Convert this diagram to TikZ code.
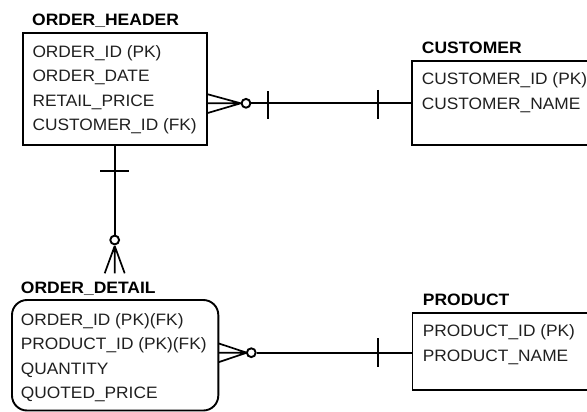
\documentclass[tikz,border=0pt]{standalone}
\usepackage{fontspec}
\setmainfont{Liberation Sans}
\newfontfamily\attrfont[FakeStretch=1.05]{Liberation Sans}
\newfontfamily\titlefont[FakeStretch=1.06]{Liberation Sans}
\usetikzlibrary{calc}
\begin{document}
\begin{tikzpicture}[x=1pt,y=-1pt,
  entity/.style={draw, line width=1.9pt, rectangle, anchor=north west, inner sep=0pt, outer sep=0pt},
  title/.style={anchor=base west, inner sep=0pt, font=\titlefont\bfseries\fontsize{16.5}{18}\selectfont},
  attr/.style={anchor=base west, inner sep=0pt, text=black!88, font=\attrfont\fontsize{16.5}{18}\selectfont},
  rel/.style={line width=1.9pt},
  foot/.style={line width=1.7pt},
  optc/.style={circle, draw, line width=1.9pt, fill=white, minimum size=8.8pt, inner sep=0pt},
]
\clip (0,0) rectangle (587,412);

% ---------- entities ----------
\node[entity, minimum width=184pt, minimum height=111.7pt] (oh) at (22.7,33.3) {};
\node[entity, minimum width=200pt, minimum height=84pt] (cu) at (411.7,61) {};
\node[entity, rounded corners=15pt, minimum width=206.3pt, minimum height=110.5pt] (od) at (12,300) {};
\node[entity, minimum width=200pt, minimum height=76.7pt] (pr) at (412.5,313.3) {};

% ---------- titles ----------
\node[title] (ohT) at (32,26) {ORDER\_HEADER};
\node[title] (cuT) at (421.7,53.3) {CUSTOMER};
\node[title] (odT) at (20.7,293.3) {ORDER\_DETAIL};
\node[title] (prT) at (422.7,305.7) {PRODUCT};

% ---------- attributes ----------
\node[attr] (oh1) at (32.3,57.3) {ORDER\_ID (PK)};
\node[attr] (oh2) at (32.3,81.8) {ORDER\_DATE};
\node[attr] (oh3) at (32.3,106.3) {RETAIL\_PRICE};
\node[attr] (oh4) at (32.3,131) {CUSTOMER\_ID (FK)};

\node[attr] (cu1) at (421.7,84.5) {CUSTOMER\_ID (PK)};
\node[attr] (cu2) at (421.7,109.3) {CUSTOMER\_NAME};

\node[attr] (od1) at (20.7,325) {ORDER\_ID (PK)(FK)};
\node[attr] (od2) at (20.7,349.5) {PRODUCT\_ID (PK)(FK)};
\node[attr] (od3) at (20.7,374) {QUANTITY};
\node[attr] (od4) at (20.7,398.5) {QUOTED\_PRICE};

\node[attr] (pr1) at (422.7,336.7) {PRODUCT\_ID (PK)};
\node[attr] (pr2) at (422.7,361.5) {PRODUCT\_NAME};

% ---------- ORDER_HEADER >o----|-- CUSTOMER ----------
\coordinate (a1) at (oh.east |- 0,103.3);
\coordinate (a1t) at (oh.east |- 0,94);
\coordinate (a1b) at (oh.east |- 0,113.3);
\coordinate (a1x) at (240.7,103.3);
\node[optc] (a1c) at (246,103.3) {};
\coordinate (a2) at (cu.west |- 0,103.3);
\draw[foot] (a1t) -- (a1x) (a1) -- (a1x) (a1b) -- (a1x);
\draw[rel] (a1c) -- (a2);
\draw[rel] (268.3,91.5) -- (268.3,119);
\draw[rel] (378.3,90) -- (378.3,119);

% ---------- ORDER_HEADER -|----o< ORDER_DETAIL ----------
\coordinate (b1) at (oh.south);
\node[optc] (b1c) at (oh.south |- 0,240) {};
\coordinate (b1x) at (oh.south |- 0,246);
\coordinate (b2) at (oh.south |- 0,273.3);
\coordinate (b2l) at ($(b2)+(-10,0)$);
\coordinate (b2r) at ($(b2)+(10,0)$);
\draw[rel] (b1) -- (b1c);
\draw[rel] ($(oh.south |- 0,170.7)+(-14.5,0)$) -- ($(oh.south |- 0,170.7)+(14.5,0)$);
\draw[foot] (b1x) -- (b2l) (b1x) -- (b2) (b1x) -- (b2r);

% ---------- ORDER_DETAIL >o------|-- PRODUCT ----------
\coordinate (c1) at (od.east |- 0,352.7);
\coordinate (c1t) at (od.east |- 0,343.3);
\coordinate (c1b) at (od.east |- 0,362.3);
\coordinate (c1x) at (246.7,352.7);
\node[optc] (c1c) at (251.3,352.7) {};
\coordinate (c2) at (pr.west |- 0,352.7);
\draw[foot] (c1t) -- (c1x) (c1) -- (c1x) (c1b) -- (c1x);
\draw[rel] (c1c) -- (c2);
\draw[rel] (378.3,338.3) -- (378.3,367.3);
\end{tikzpicture}
\end{document}
